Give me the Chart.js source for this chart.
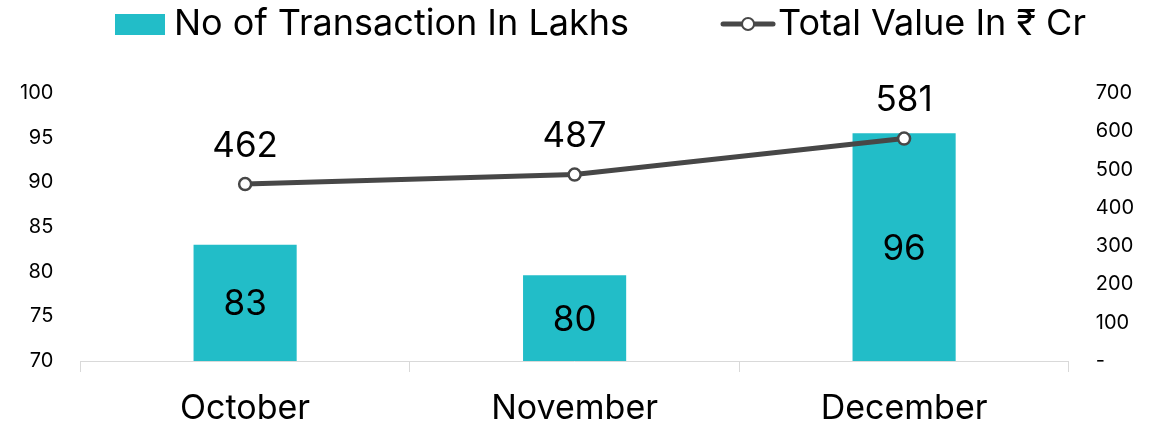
<!DOCTYPE html>
<html>
<head>
<meta charset="utf-8">
<script src="https://cdn.jsdelivr.net/npm/chart.js@4"></script>
<style>
  html, body { margin: 0; padding: 0; background: #ffffff; }
  #wrap { width: 1158px; height: 424px; }
</style>
</head>
<body>
<div id="wrap"><canvas id="chart"></canvas></div>
<script>
var months = ["October", "November", "December"];
var transactions = [83.0, 79.6, 95.5];
var totalValue = [462, 487, 581];
var seriesNames = ["No of Transaction In Lakhs", "Total Value In \u20B9 Cr"];
var leftRange = [70, 100, 5];
var rightRange = [0, 700, 100];

var barColor = "#22BDC8";
var lineColor = "#474747";
var fontFamily = "Inter, 'Noto Sans', sans-serif";

// legend drawn on top of the canvas
var topLegend = {
  id: "topLegend",
  afterDraw: function(chart) {
    var ctx = chart.ctx;
    ctx.save();
    ctx.font = "36px " + fontFamily;
    ctx.textBaseline = "middle";
    var w1 = ctx.measureText(seriesNames[0]).width;
    var x = 115;
    var y = 24;
    ctx.fillStyle = barColor;
    ctx.fillRect(x, 14, 50, 21);
    x += 59;
    ctx.fillStyle = "#000";
    ctx.fillText(seriesNames[0], x, y);
    x += w1 + 92;
    ctx.strokeStyle = lineColor;
    ctx.lineWidth = 5;
    ctx.lineCap = "round";
    ctx.beginPath();
    ctx.moveTo(x + 2, y);
    ctx.lineTo(x + 52, y);
    ctx.stroke();
    ctx.beginPath();
    ctx.arc(x + 27, y, 6, 0, Math.PI * 2);
    ctx.fillStyle = "#fff";
    ctx.fill();
    ctx.lineWidth = 2;
    ctx.stroke();
    x += 57;
    ctx.fillStyle = "#000";
    ctx.fillText(seriesNames[1], x, y);
    ctx.restore();
  }
};

// value labels for bars (centred) and line points (above)
var valueLabels = {
  id: "valueLabels",
  afterDatasetsDraw: function(chart) {
    var ctx = chart.ctx;
    var base = chart.scales.y.bottom;
    ctx.save();
    ctx.font = "35px " + fontFamily;
    ctx.fillStyle = "#000";
    ctx.textAlign = "center";
    ctx.textBaseline = "middle";
    chart.getDatasetMeta(1).data.forEach(function(bar, i) {
      var mid = (bar.y + base) / 2;
      ctx.fillText(String(Math.round(transactions[i])), bar.x, mid + 2);
    });
    chart.getDatasetMeta(0).data.forEach(function(pt, i) {
      ctx.fillText(String(totalValue[i]), pt.x, pt.y - 38);
    });
    ctx.restore();
  }
};

var ctx = document.getElementById("chart").getContext("2d");
var myChart = new Chart(ctx, {
  type: "bar",
  data: {
    labels: months,
    datasets: [
      {
        type: "line",
        label: seriesNames[1],
        data: totalValue,
        yAxisID: "y2",
        borderColor: lineColor,
        borderWidth: 5,
        pointRadius: 6,
        pointBorderWidth: 2.5,
        pointBackgroundColor: "#fff",
        pointBorderColor: lineColor,
        tension: 0,
        order: 0
      },
      {
        type: "bar",
        label: seriesNames[0],
        data: transactions,
        yAxisID: "y",
        backgroundColor: barColor,
        categoryPercentage: 1,
        barPercentage: 0.313,
        order: 1
      }
    ]
  },
  options: {
    responsive: true,
    maintainAspectRatio: false,
    animation: false,
    layout: { padding: { top: 93, left: -7, right: -3, bottom: -22 } },
    plugins: {
      legend: { display: false },
      tooltip: { enabled: false }
    },
    scales: {
      x: {
        offset: true,
        border: { display: true, color: "#D9D9D9", width: 1 },
        grid: {
          display: true,
          offset: true,
          drawOnChartArea: false,
          drawTicks: true,
          tickLength: 11,
          color: "#D9D9D9"
        },
        ticks: {
          color: "#000",
          font: { family: fontFamily, size: 34, lineHeight: 1 },
          padding: 20
        }
      },
      y: {
        position: "left",
        min: leftRange[0],
        max: leftRange[1],
        border: { display: false },
        grid: { display: false, drawTicks: false },
        ticks: {
          stepSize: leftRange[2],
          color: "#000",
          font: { family: fontFamily, size: 20 },
          padding: 27
        }
      },
      y2: {
        position: "right",
        min: rightRange[0],
        max: rightRange[1],
        border: { display: false },
        grid: { display: false, drawTicks: false },
        ticks: {
          stepSize: rightRange[2],
          color: "#000",
          font: { family: fontFamily, size: 20 },
          padding: 27,
          callback: function(v) { return v === 0 ? "-" : v; }
        }
      }
    }
  },
  plugins: [topLegend, valueLabels]
});
</script>
</body>
</html>
